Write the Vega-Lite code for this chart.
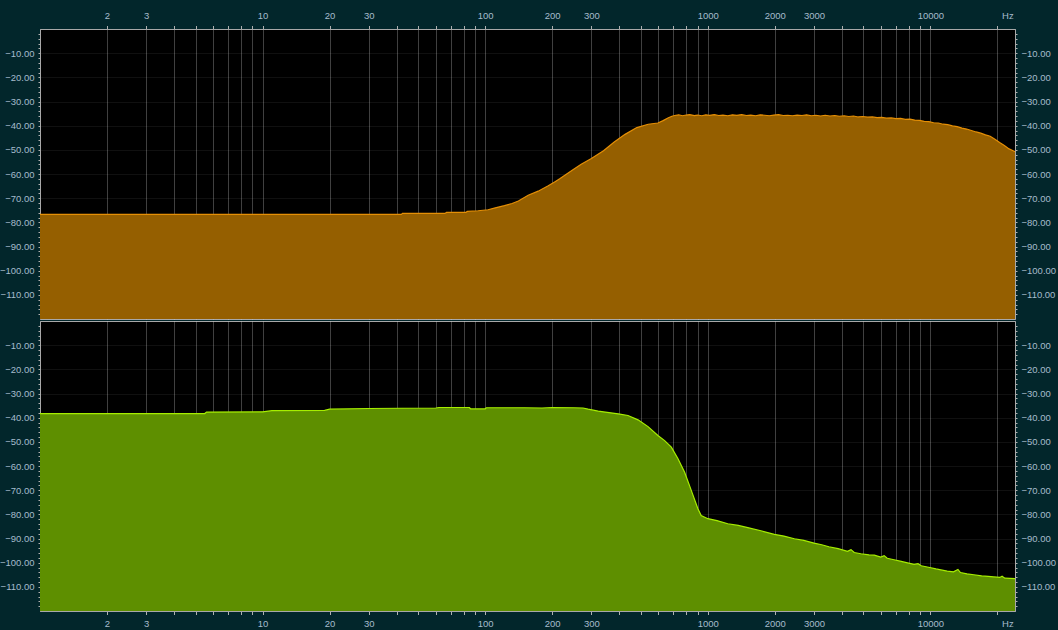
{
  "$schema": "https://vega.github.io/schema/vega-lite/v6.json",
  "background": "#02262b",
  "padding": {"left": -2, "top": 10, "right": 2, "bottom": 2},
  "datasets": {
    "top": [
      {"f": 1, "db": -76.7}, {"f": 42, "db": -76.7}, {"f": 42.5, "db": -76.3}, {"f": 66, "db": -76.3},
      {"f": 67, "db": -75.9}, {"f": 82, "db": -75.9}, {"f": 83, "db": -75.5}, {"f": 93, "db": -75.2},
      {"f": 103, "db": -74.8}, {"f": 111, "db": -74.0}, {"f": 122, "db": -73.1}, {"f": 132, "db": -72.2},
      {"f": 141, "db": -71.2}, {"f": 156, "db": -68.8}, {"f": 173, "db": -67.1}, {"f": 192, "db": -64.9},
      {"f": 206, "db": -63.2}, {"f": 217, "db": -61.9}, {"f": 245, "db": -58.6}, {"f": 270, "db": -56.0},
      {"f": 300, "db": -53.6}, {"f": 340, "db": -50.4}, {"f": 380, "db": -46.8}, {"f": 425, "db": -43.6},
      {"f": 480, "db": -40.8}, {"f": 540, "db": -39.4}, {"f": 597, "db": -38.9}, {"f": 630, "db": -37.9},
      {"f": 662, "db": -36.8}, {"f": 690, "db": -36.1}, {"f": 710, "db": -35.8}, {"f": 740, "db": -35.5},
      {"f": 770, "db": -35.9}, {"f": 800, "db": -35.6}, {"f": 830, "db": -35.4}, {"f": 870, "db": -35.8},
      {"f": 900, "db": -35.6}, {"f": 940, "db": -35.9}, {"f": 980, "db": -35.5}, {"f": 1020, "db": -35.7},
      {"f": 1070, "db": -35.4}, {"f": 1120, "db": -35.8}, {"f": 1170, "db": -35.6}, {"f": 1230, "db": -35.9},
      {"f": 1290, "db": -35.5}, {"f": 1350, "db": -35.7}, {"f": 1420, "db": -35.4}, {"f": 1490, "db": -35.8},
      {"f": 1560, "db": -35.6}, {"f": 1640, "db": -35.9}, {"f": 1720, "db": -35.5}, {"f": 1800, "db": -35.7},
      {"f": 1890, "db": -35.9}, {"f": 1980, "db": -35.6}, {"f": 2080, "db": -35.4}, {"f": 2180, "db": -35.8},
      {"f": 2290, "db": -35.7}, {"f": 2400, "db": -35.9}, {"f": 2520, "db": -35.6}, {"f": 2650, "db": -35.8},
      {"f": 2780, "db": -35.5}, {"f": 2920, "db": -35.9}, {"f": 3060, "db": -35.7}, {"f": 3210, "db": -36.0},
      {"f": 3370, "db": -35.7}, {"f": 3540, "db": -36.0}, {"f": 3720, "db": -35.8}, {"f": 3900, "db": -36.1},
      {"f": 4100, "db": -35.9}, {"f": 4300, "db": -36.2}, {"f": 4520, "db": -36.0}, {"f": 4740, "db": -36.4},
      {"f": 4980, "db": -36.2}, {"f": 5230, "db": -36.5}, {"f": 5490, "db": -36.4}, {"f": 5760, "db": -36.7},
      {"f": 6050, "db": -36.6}, {"f": 6350, "db": -36.9}, {"f": 6670, "db": -36.8}, {"f": 7000, "db": -37.1},
      {"f": 7350, "db": -37.0}, {"f": 7720, "db": -37.4}, {"f": 8100, "db": -37.3}, {"f": 8510, "db": -37.7},
      {"f": 8930, "db": -37.8}, {"f": 9380, "db": -38.2}, {"f": 9850, "db": -38.3}, {"f": 10340, "db": -38.8},
      {"f": 10860, "db": -38.9}, {"f": 11400, "db": -39.4}, {"f": 11970, "db": -39.6}, {"f": 12570, "db": -40.1},
      {"f": 13200, "db": -40.4}, {"f": 13860, "db": -41.0}, {"f": 14550, "db": -41.4}, {"f": 15280, "db": -42.0},
      {"f": 16040, "db": -42.6}, {"f": 16840, "db": -43.1}, {"f": 17680, "db": -43.8}, {"f": 18570, "db": -44.4},
      {"f": 19500, "db": -45.6}, {"f": 20470, "db": -47.0}, {"f": 21490, "db": -48.2}, {"f": 22570, "db": -49.6},
      {"f": 23300, "db": -50.2}, {"f": 24000, "db": -50.8}
    ],
    "bottom": [
      {"f": 1, "db": -38.3}, {"f": 5.5, "db": -38.3}, {"f": 5.6, "db": -37.7}, {"f": 10, "db": -37.6},
      {"f": 11, "db": -37.1}, {"f": 19, "db": -37.0}, {"f": 20, "db": -36.5}, {"f": 30, "db": -36.2},
      {"f": 60, "db": -36.0}, {"f": 62, "db": -35.8}, {"f": 85, "db": -35.8}, {"f": 86, "db": -36.4},
      {"f": 100, "db": -36.4}, {"f": 101, "db": -35.9}, {"f": 150, "db": -35.9}, {"f": 180, "db": -36.0},
      {"f": 200, "db": -35.8}, {"f": 250, "db": -35.9}, {"f": 275, "db": -36.0}, {"f": 290, "db": -36.5},
      {"f": 322, "db": -37.3}, {"f": 360, "db": -37.9}, {"f": 396, "db": -38.4}, {"f": 438, "db": -39.1},
      {"f": 486, "db": -40.9}, {"f": 539, "db": -43.7}, {"f": 597, "db": -47.4}, {"f": 640, "db": -49.5},
      {"f": 686, "db": -52.2}, {"f": 735, "db": -57.0}, {"f": 787, "db": -62.6}, {"f": 843, "db": -70.1},
      {"f": 903, "db": -77.7}, {"f": 934, "db": -80.5}, {"f": 1001, "db": -81.8}, {"f": 1100, "db": -82.6},
      {"f": 1230, "db": -83.9}, {"f": 1370, "db": -84.6}, {"f": 1513, "db": -85.5}, {"f": 1750, "db": -86.9},
      {"f": 1991, "db": -88.3}, {"f": 2200, "db": -89.0}, {"f": 2449, "db": -90.1}, {"f": 2700, "db": -90.8},
      {"f": 3000, "db": -91.9}, {"f": 3250, "db": -92.6}, {"f": 3500, "db": -93.4}, {"f": 3850, "db": -94.2},
      {"f": 4243, "db": -95.3}, {"f": 4400, "db": -94.6}, {"f": 4550, "db": -95.8}, {"f": 4870, "db": -96.3},
      {"f": 5300, "db": -96.8}, {"f": 5600, "db": -96.9}, {"f": 5984, "db": -97.7}, {"f": 6200, "db": -97.1},
      {"f": 6400, "db": -98.2}, {"f": 6870, "db": -98.8}, {"f": 7400, "db": -99.5}, {"f": 7900, "db": -100.1},
      {"f": 8445, "db": -100.7}, {"f": 8800, "db": -100.4}, {"f": 9100, "db": -101.3}, {"f": 9683, "db": -101.8},
      {"f": 10600, "db": -102.6}, {"f": 11300, "db": -103.1}, {"f": 11905, "db": -103.5}, {"f": 12700, "db": -103.8},
      {"f": 13300, "db": -102.8}, {"f": 13652, "db": -104.1}, {"f": 14600, "db": -104.6}, {"f": 15670, "db": -105.0},
      {"f": 17000, "db": -105.5}, {"f": 18200, "db": -105.7}, {"f": 19270, "db": -105.9}, {"f": 20500, "db": -106.1},
      {"f": 21000, "db": -105.6}, {"f": 21600, "db": -106.4}, {"f": 24000, "db": -106.6}
    ]
  },
  "vconcat": [
    {
      "width": 975,
      "height": 290,
      "data": {"name": "top"},
      "encoding": {
        "x": {
          "field": "f", "type": "quantitative",
          "scale": {"type": "log", "domain": [1, 24000], "nice": false},
          "axis": {
            "orient": "top", "title": null, "format": "d",
            "values": [2,3,4,5,6,7,8,9,10,20,30,40,50,60,70,80,90,100,200,300,400,500,600,700,800,900,1000,2000,3000,4000,5000,6000,7000,8000,9000,10000,20000],
            "labelExpr": "datum.value == 20000 ? 'Hz' : (indexof([2,3,10,20,30,100,200,300,1000,2000,3000,10000], datum.value) >= 0 ? datum.label : '')",
            "labelOffset": {"condition": {"test": "datum.value == 20000", "value": 10}, "value": 0},
            "tickSize": 3.5, "labelPadding": 5
          }
        }
      },
      "layer": [
        {
          "mark": {"type": "area", "color": "#955f00", "opacity": 1},
          "encoding": {
            "y": {
              "field": "db", "type": "quantitative",
              "scale": {"domain": [-120, 0], "nice": false, "zero": false},
              "axis": {
                "orient": "left", "title": null,
                "values": [-118,-116,-114,-112,-110,-108,-106,-104,-102,-100,-98,-96,-94,-92,-90,-88,-86,-84,-82,-80,-78,-76,-74,-72,-70,-68,-66,-64,-62,-60,-58,-56,-54,-52,-50,-48,-46,-44,-42,-40,-38,-36,-34,-32,-30,-28,-26,-24,-22,-20,-18,-16,-14,-12,-10,-8,-6,-4,-2],
                "labelExpr": "datum.value % 10 === 0 ? format(datum.value, '.2f') : ''",
                "gridOpacity": {"condition": {"test": "datum.value % 10 === 0", "value": 0.25}, "value": 0},
                "tickSize": 2, "labelPadding": 4
              }
            },
            "y2": {"datum": -120}
          }
        },
        {
          "mark": {"type": "line", "color": "#e58f05", "strokeWidth": 1.2},
          "encoding": {
            "y": {
              "field": "db", "type": "quantitative",
              "scale": {"domain": [-120, 0], "nice": false, "zero": false},
              "axis": {
                "orient": "right", "title": null, "grid": false,
                "values": [-118,-116,-114,-112,-110,-108,-106,-104,-102,-100,-98,-96,-94,-92,-90,-88,-86,-84,-82,-80,-78,-76,-74,-72,-70,-68,-66,-64,-62,-60,-58,-56,-54,-52,-50,-48,-46,-44,-42,-40,-38,-36,-34,-32,-30,-28,-26,-24,-22,-20,-18,-16,-14,-12,-10,-8,-6,-4,-2],
                "labelExpr": "datum.value % 10 === 0 ? format(datum.value, '.2f') : ''",
                "tickSize": 2, "labelPadding": 4
              }
            }
          }
        }
      ],
      "resolve": {"axis": {"y": "independent"}}
    },
    {
      "width": 975,
      "height": 290,
      "data": {"name": "bottom"},
      "encoding": {
        "x": {
          "field": "f", "type": "quantitative",
          "scale": {"type": "log", "domain": [1, 24000], "nice": false},
          "axis": {
            "orient": "bottom", "title": null, "format": "d",
            "values": [2,3,4,5,6,7,8,9,10,20,30,40,50,60,70,80,90,100,200,300,400,500,600,700,800,900,1000,2000,3000,4000,5000,6000,7000,8000,9000,10000,20000],
            "labelExpr": "datum.value == 20000 ? 'Hz' : (indexof([2,3,10,20,30,100,200,300,1000,2000,3000,10000], datum.value) >= 0 ? datum.label : '')",
            "labelOffset": {"condition": {"test": "datum.value == 20000", "value": 10}, "value": 0},
            "tickSize": 3.5, "labelPadding": 4
          }
        }
      },
      "layer": [
        {
          "mark": {"type": "area", "color": "#5e8f00", "opacity": 1},
          "encoding": {
            "y": {
              "field": "db", "type": "quantitative",
              "scale": {"domain": [-120, 0], "nice": false, "zero": false},
              "axis": {
                "orient": "left", "title": null,
                "values": [-118,-116,-114,-112,-110,-108,-106,-104,-102,-100,-98,-96,-94,-92,-90,-88,-86,-84,-82,-80,-78,-76,-74,-72,-70,-68,-66,-64,-62,-60,-58,-56,-54,-52,-50,-48,-46,-44,-42,-40,-38,-36,-34,-32,-30,-28,-26,-24,-22,-20,-18,-16,-14,-12,-10,-8,-6,-4,-2],
                "labelExpr": "datum.value % 10 === 0 ? format(datum.value, '.2f') : ''",
                "gridOpacity": {"condition": {"test": "datum.value % 10 === 0", "value": 0.25}, "value": 0},
                "tickSize": 2, "labelPadding": 4
              }
            },
            "y2": {"datum": -120}
          }
        },
        {
          "mark": {"type": "line", "color": "#a6ee00", "strokeWidth": 1.2},
          "encoding": {
            "y": {
              "field": "db", "type": "quantitative",
              "scale": {"domain": [-120, 0], "nice": false, "zero": false},
              "axis": {
                "orient": "right", "title": null, "grid": false,
                "values": [-118,-116,-114,-112,-110,-108,-106,-104,-102,-100,-98,-96,-94,-92,-90,-88,-86,-84,-82,-80,-78,-76,-74,-72,-70,-68,-66,-64,-62,-60,-58,-56,-54,-52,-50,-48,-46,-44,-42,-40,-38,-36,-34,-32,-30,-28,-26,-24,-22,-20,-18,-16,-14,-12,-10,-8,-6,-4,-2],
                "labelExpr": "datum.value % 10 === 0 ? format(datum.value, '.2f') : ''",
                "tickSize": 2, "labelPadding": 4
              }
            }
          }
        }
      ],
      "resolve": {"axis": {"y": "independent"}}
    }
  ],
  "spacing": 0,
  "config": {
    "view": {"stroke": "#a8a8a8", "strokeWidth": 1, "fill": "#000000"},
    "axis": {
      "zindex": 1,
      "domain": true,
      "domainColor": "#a8a8a8",
      "domainWidth": 1,
      "grid": true,
      "gridColor": "#ffffff",
      "gridOpacity": 0.25,
      "gridWidth": 1,
      "tickColor": "#b0b0b0",
      "tickWidth": 1,
      "labelColor": "#a6bccc",
      "labelFont": "Liberation Sans",
      "labelFontSize": 9.5,
      "labelOverlap": false,
      "labelFlush": false,
      "labelBound": false
    }
  }
}
